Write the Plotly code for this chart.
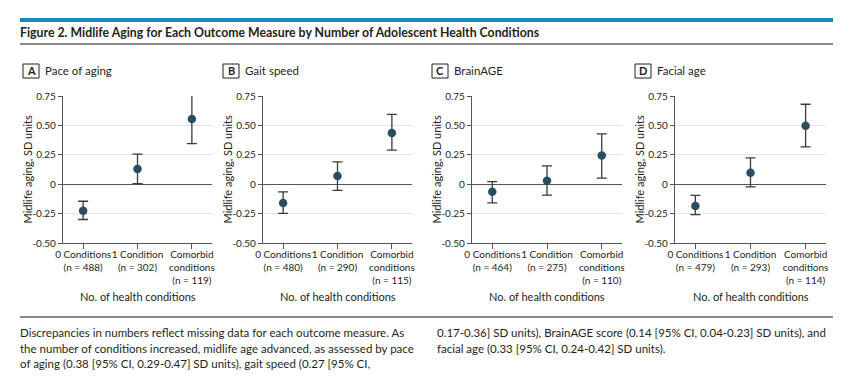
import plotly.graph_objects as go

# page is 850x379; the html body has an 8px margin, so the figure is 834x363
PAGE_W, PAGE_H = 850, 379
OFF = 8
W, H = PAGE_W - 2 * OFF, PAGE_H - 2 * OFF

categories = ["0 Conditions", "1 Condition", "Comorbid<br>conditions"]
panel_letters = ["A", "B", "C", "D"]
panel_titles = ["Pace of aging", "Gait speed", "BrainAGE", "Facial age"]
n_labels = [
    ["488", "302", "119"],
    ["480", "290", "115"],
    ["464", "275", "110"],
    ["479", "293", "114"],
]
pace_est = [-0.225, 0.13, 0.555]
pace_lo = [-0.30, 0.005, 0.345]
pace_hi = [-0.145, 0.255, 0.775]
gait_est = [-0.16, 0.07, 0.435]
gait_lo = [-0.248, -0.053, 0.29]
gait_hi = [-0.065, 0.19, 0.593]
brain_est = [-0.065, 0.03, 0.245]
brain_lo = [-0.158, -0.093, 0.052]
brain_hi = [0.022, 0.155, 0.428]
face_est = [-0.185, 0.098, 0.497]
face_lo = [-0.258, -0.022, 0.318]
face_hi = [-0.095, 0.224, 0.68]
y_ticks = [-0.5, -0.25, 0, 0.25, 0.5, 0.75]
y_ticklabels = ["-0.50", "-0.25", "0", "0.25", "0.50", "0.75"]

series = [
    (pace_est, pace_lo, pace_hi),
    (gait_est, gait_lo, gait_hi),
    (brain_est, brain_lo, brain_hi),
    (face_est, face_lo, face_hi),
]

# page-pixel layout (left, right) of each plot area
x_px = [(63, 212), (263, 412), (472, 622), (675, 826)]
y_top, y_bot = 96, 243

FONT = "Lato"
TXT = "#231f20"
MARK = "#2c4d60"

def px(x):
    return (x - OFF) / W

def py(y):
    return 1 - (y - OFF) / H

fig = go.Figure()
annotations = []
shapes = []

for i, (est, lo, hi) in enumerate(series):
    k = "" if i == 0 else str(i + 1)
    plus = [h - e for h, e in zip(hi, est)]
    minus = [e - l for e, l in zip(est, lo)]
    fig.add_trace(go.Scatter(
        x=[0, 1, 2], y=est, mode="markers",
        marker=dict(color=MARK, size=8.5, line=dict(width=0)),
        error_y=dict(type="data", array=plus, arrayminus=minus, symmetric=False,
                     color="#3a3a3a", thickness=1.3, width=5),
        xaxis="x" + k, yaxis="y" + k, showlegend=False, hoverinfo="skip",
        cliponaxis=False,
    ))
    ticktext = [f"{c}<br>(n = {n})" for c, n in zip(categories, n_labels[i])]
    x0, x1 = x_px[i]
    fig.layout["xaxis" + k] = dict(
        domain=[px(x0), px(x1)], range=[-0.37, 2.37], anchor="y" + k,
        tickmode="array", tickvals=[0, 1, 2], ticktext=ticktext, tickangle=0,
        ticks="outside", ticklen=5, tickcolor="#555", tickwidth=1,
        ticklabelstandoff=-3,
        showline=True, linecolor="#555", linewidth=1.2, showgrid=False, zeroline=False,
        tickfont=dict(family=FONT, size=10, color=TXT), fixedrange=True,
        automargin=False,
    )
    fig.layout["yaxis" + k] = dict(
        domain=[py(y_bot), py(y_top)], range=[-0.5, 0.75], anchor="x" + k,
        tickmode="array", tickvals=y_ticks, ticktext=y_ticklabels,
        ticks="outside", ticklen=4, tickcolor="#555", tickwidth=1,
        showline=True, linecolor="#555", linewidth=1.2,
        showgrid=True, gridcolor="#e3e3e3", gridwidth=1.2,
        zeroline=True, zerolinecolor="#555", zerolinewidth=1.2,
        tickfont=dict(family=FONT, size=10, color=TXT), fixedrange=True,
        automargin=False,
    )
    # y axis title
    annotations.append(dict(
        x=px(x0 - 36), y=py((y_top + y_bot) / 2), xref="paper", yref="paper",
        text="Midlife aging, SD units", textangle=-90, showarrow=False,
        font=dict(family=FONT, size=11, color=TXT), xanchor="center", yanchor="middle",
    ))
    # x axis title
    annotations.append(dict(
        x=px((x0 + x1) / 2), y=py(296), xref="paper", yref="paper",
        text="No. of health conditions", showarrow=False,
        font=dict(family=FONT, size=11, color=TXT), xanchor="center", yanchor="middle",
    ))
    # panel letter box
    bx = x0 - 40
    shapes.append(dict(type="rect", xref="paper", yref="paper",
                       x0=px(bx), x1=px(bx + 16), y0=py(78), y1=py(64),
                       line=dict(color="#231f20", width=1), fillcolor="white"))
    annotations.append(dict(
        x=px(bx + 8), y=py(71), xref="paper", yref="paper",
        text="<b>" + panel_letters[i] + "</b>", showarrow=False,
        font=dict(family=FONT, size=11, color=TXT), xanchor="center", yanchor="middle",
    ))
    annotations.append(dict(
        x=px(bx + 20), y=py(71), xref="paper", yref="paper",
        text=panel_titles[i], showarrow=False,
        font=dict(family=FONT, size=11.5, color=TXT), xanchor="left", yanchor="middle",
    ))

# header / footer decorations
shapes.append(dict(type="rect", xref="paper", yref="paper", x0=px(20), x1=px(833),
                   y0=py(22), y1=py(18), line=dict(width=0), fillcolor="#1b87c1"))
shapes.append(dict(type="line", xref="paper", yref="paper", x0=px(20), x1=px(833),
                   y0=py(44), y1=py(44), line=dict(color="#8a8a8a", width=2)))
shapes.append(dict(type="line", xref="paper", yref="paper", x0=px(20), x1=px(833),
                   y0=py(317), y1=py(317), line=dict(color="#8a8a8a", width=2)))

annotations.append(dict(
    x=px(18), y=py(32), xref="paper", yref="paper",
    text="<b>Figure 2. Midlife Aging for Each Outcome Measure by Number of Adolescent Health Conditions</b>",
    showarrow=False, font=dict(family=FONT, size=12.3, color=TXT),
    xanchor="left", yanchor="middle",
))

caption_left = [
    "Discrepancies in numbers reflect missing data for each outcome measure. As",
    "the number of conditions increased, midlife age advanced, as assessed by pace",
    "of aging (0.38 [95% CI, 0.29-0.47] SD units), gait speed (0.27 [95% CI,",
]
caption_right = [
    "0.17-0.36] SD units), BrainAGE score (0.14 [95% CI, 0.04-0.23] SD units), and",
    "facial age (0.33 [95% CI, 0.24-0.42] SD units).",
]
line_y = [332, 348, 363]
for j, t in enumerate(caption_left):
    annotations.append(dict(x=px(18), y=py(line_y[j]), xref="paper", yref="paper",
                            text=t, showarrow=False, xanchor="left", yanchor="middle",
                            font=dict(family=FONT, size=11.5, color=TXT)))
for j, t in enumerate(caption_right):
    annotations.append(dict(x=px(435), y=py(line_y[j]), xref="paper", yref="paper",
                            text=t, showarrow=False, xanchor="left", yanchor="middle",
                            font=dict(family=FONT, size=11.5, color=TXT)))

fig.update_layout(
    width=W, height=H, margin=dict(l=0, r=0, t=0, b=0, autoexpand=False),
    paper_bgcolor="white", plot_bgcolor="white",
    annotations=annotations, shapes=shapes,
    font=dict(family=FONT, color=TXT),
)
fig.write_html("out.html", config={"displayModeBar": False})
